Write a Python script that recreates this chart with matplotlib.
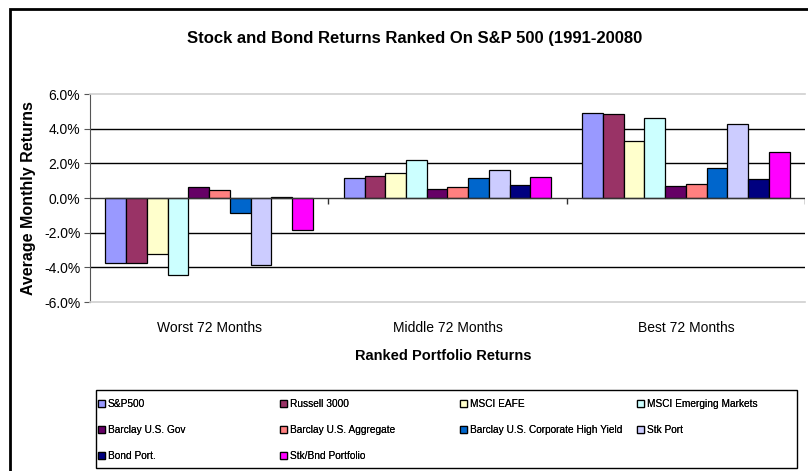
import numpy as np
import matplotlib
matplotlib.use("Agg")
import matplotlib.pyplot as plt
from matplotlib.patches import Rectangle
from matplotlib.ticker import FuncFormatter

# Ranked periods and series (average monthly returns, %)
categories = ["Worst 72 Months", "Middle 72 Months", "Best 72 Months"]
series_names = [
    "S&P500", "Russell 3000", "MSCI EAFE", "MSCI Emerging Markets",
    "Barclay U.S. Gov", "Barclay U.S. Aggregate",
    "Barclay U.S. Corporate High Yield", "Stk Port",
    "Bond Port.", "Stk/Bnd Portfolio",
]
sp500 = [-3.75, 1.15, 4.90]
russell = [-3.75, 1.29, 4.83]
eafe = [-3.21, 1.44, 3.29]
emerging = [-4.46, 2.21, 4.60]
gov = [0.62, 0.54, 0.67]
aggregate = [0.46, 0.62, 0.83]
high_yield = [-0.87, 1.13, 1.75]
stk_port = [-3.85, 1.60, 4.29]
bond_port = [0.08, 0.77, 1.08]
stk_bnd = [-1.85, 1.21, 2.67]

series_values = [sp500, russell, eafe, emerging, gov, aggregate,
                 high_yield, stk_port, bond_port, stk_bnd]
colors = ["#9999FF", "#993366", "#FFFFCC", "#CCFFFF", "#660066",
          "#FF8080", "#0066CC", "#CCCCFF", "#000080", "#FF00FF"]

FONT = ["Liberation Sans", "DejaVu Sans"]

fig = plt.figure(figsize=(8.08, 4.71), dpi=100)
W, H = 808, 471

# outer chart frame
fig.patches.append(Rectangle((10 / W, -0.05), 1.1, 1 - 9 / H + 0.05,
                             transform=fig.transFigure, fill=False,
                             edgecolor="black", linewidth=2, zorder=0))

ax = fig.add_axes([90 / W, 1 - 302 / H, 715 / W, 208 / H])

n = len(series_values)
x = np.arange(len(categories))
group_w = 0.87
bar_w = group_w / n
for i, (vals, c, name) in enumerate(zip(series_values, colors, series_names)):
    offs = -group_w / 2 + bar_w * (i + 0.5)
    ax.bar(x + offs, vals, width=bar_w, color=c, edgecolor="black",
           linewidth=0.9, label=name, zorder=3)

ax.set_xlim(-0.5, len(categories) - 0.5)
ax.set_ylim(-6, 6)
ax.set_yticks(np.arange(-6, 6.1, 2))
ax.yaxis.set_major_formatter(FuncFormatter(lambda v, p: f"{v:.1f}%"))

# gridlines
for v in [-4, -2, 2, 4]:
    ax.axhline(v, color="black", linewidth=1, zorder=1)
ax.axhline(0, color="#333333", linewidth=1, zorder=4)
ax.vlines(np.arange(len(categories)) + 0.5, -0.33, 0, color="#333333",
          linewidth=1, zorder=4)

ax.spines["right"].set_visible(False)
for s in ["top", "bottom"]:
    ax.spines[s].set_color("#D0D0D0")
    ax.spines[s].set_linewidth(1.2)
ax.spines["left"].set_color("#555555")

ax.tick_params(axis="y", direction="out", length=4, color="#555555",
               pad=3)
ax.tick_params(axis="x", length=0, pad=14)
ax.set_xticks(x)
ax.set_xticklabels(categories)
for lab in ax.get_xticklabels() + ax.get_yticklabels():
    lab.set_family(FONT)
    lab.set_fontsize(10)

fig.text(415 / W, 1 - 38 / H,
         "Stock and Bond Returns Ranked On S&P 500 (1991-20080",
         ha="center", va="center", fontsize=12, fontweight="bold",
         family=FONT)
fig.text(29 / W, 1 - 198 / H, "Average Monthly Returns", rotation=90,
         ha="center", va="center", fontsize=11.5, fontweight="bold",
         family=FONT)
fig.text(443 / W, 1 - 356 / H, "Ranked Portfolio Returns",
         ha="center", va="center", fontsize=10.5, fontweight="bold",
         family=FONT)

# legend frame and four columns
lx0, lx1, ly0, ly1 = 96, 797, 390, 468
fig.patches.append(Rectangle((lx0 / W, 1 - ly1 / H), (lx1 - lx0) / W,
                             (ly1 - ly0) / H, transform=fig.transFigure,
                             fill=False, edgecolor="black", linewidth=1))
handles, labels = ax.get_legend_handles_labels()
col_x = [98, 280, 460, 637]
for c in range(4):
    idx = list(range(c, n, 4))
    leg = fig.legend([handles[i] for i in idx], [labels[i] for i in idx],
                     loc="upper left",
                     bbox_to_anchor=(col_x[c] / W, 1 - (ly0 + 9) / H),
                     frameon=False, ncol=1, handlelength=0.65,
                     handleheight=0.65, handletextpad=0.3,
                     labelspacing=1.6, borderpad=0, borderaxespad=0,
                     prop={"family": FONT, "size": 7.3})
    fig.add_artist(leg)

fig.savefig("out.png", dpi=100)
